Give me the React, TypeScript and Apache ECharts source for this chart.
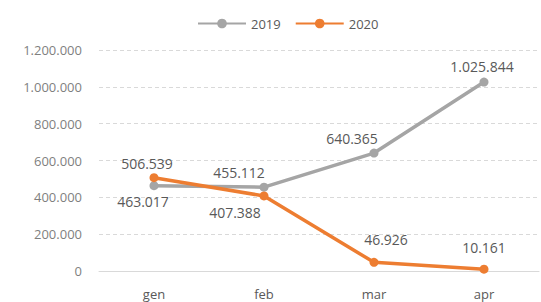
import React, { useEffect, useRef } from "react";
import * as echarts from "echarts";

const categories = ["gen", "feb", "mar", "apr"];
const series2019 = [463017, 455112, 640365, 1025844];
const series2020 = [506539, 407388, 46926, 10161];
const seriesNames = ["2019", "2020"];

const fmt = (v: number) =>
  String(Math.round(v)).replace(/\B(?=(\d{3})+(?!\d))/g, ".");

const FONT = "'Open Sans', sans-serif";

export default function App() {
  const ref = useRef<HTMLDivElement>(null);
  useEffect(() => {
    if (!ref.current) return;
    const chart = echarts.init(ref.current, null, { renderer: "svg" });
    const lab2019 = [
      { position: "bottom", offset: [-11, -1] },
      { position: "top", offset: [-25, 2] },
      { position: "top", offset: [-22, 2] },
      { position: "top", offset: [-2, 1] },
    ];
    const lab2020 = [
      { position: "top", offset: [-7, 2] },
      { position: "bottom", offset: [-29, 0] },
      { position: "top", offset: [12, -6] },
      { position: "top", offset: [0, -5] },
    ];
    const mk = (vals: number[], labs: any[]) =>
      vals.map((v, i) => ({ value: v, label: labs[i] }));
    const labelBase = {
      show: true,
      color: "#595959",
      fontSize: 14,
      fontFamily: FONT,
      formatter: (p: any) => fmt(p.value),
    };
    chart.setOption({
      animation: false,
      legend: {
        left: 192,
        top: 12,
        itemWidth: 48,
        itemHeight: 12,
        itemGap: 14,
        textStyle: { color: "#595959", fontSize: 13, fontFamily: FONT },
        data: seriesNames,
      },
      grid: { left: 99, right: 2, top: 50, bottom: 31 },
      xAxis: {
        type: "category",
        data: categories,
        boundaryGap: true,
        axisLine: { lineStyle: { color: "#d9d9d9", width: 1 } },
        axisTick: { show: false },
        axisLabel: { color: "#595959", fontSize: 13, fontFamily: FONT, margin: 16 },
      },
      yAxis: {
        type: "value",
        min: 0,
        max: 1200000,
        interval: 200000,
        axisLine: { show: false },
        axisTick: { show: false },
        axisLabel: {
          color: "#7f7f7f",
          fontSize: 13,
          fontFamily: FONT,
          margin: 17,
          formatter: (v: number) => fmt(v),
        },
        splitLine: { lineStyle: { color: "#d9d9d9", type: [4, 3], width: 1 } },
      },
      series: [
        {
          name: seriesNames[0],
          type: "line",
          data: mk(series2019, lab2019),
          symbol: "circle",
          symbolSize: 9,
          lineStyle: { color: "#A5A5A5", width: 3.5 },
          itemStyle: { color: "#A5A5A5" },
          label: labelBase,
        },
        {
          name: seriesNames[1],
          type: "line",
          data: mk(series2020, lab2020),
          symbol: "circle",
          symbolSize: 9,
          lineStyle: { color: "#ED7D31", width: 3.5 },
          itemStyle: { color: "#ED7D31" },
          label: labelBase,
        },
      ],
    });
    return () => chart.dispose();
  }, []);
  return (
    <div
      ref={ref}
      style={{ position: "fixed", left: 0, top: 0, width: 541, height: 302, background: "#fff" }}
    />
  );
}
